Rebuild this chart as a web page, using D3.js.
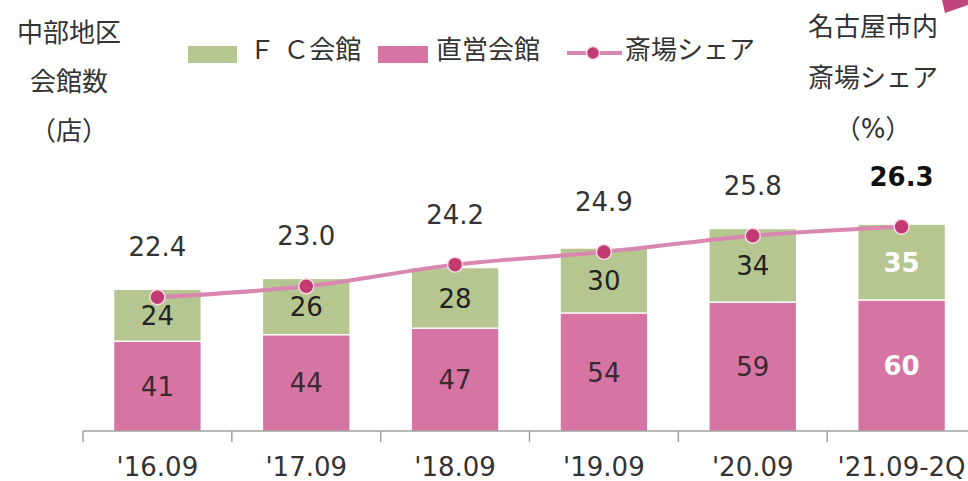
<!DOCTYPE html>
<html>
<head>
<meta charset="utf-8">
<script src="https://d3js.org/d3.v7.min.js"></script>
<style>
  body { margin: 0; background: #fff; }
  text { font-family: "DejaVu Sans", "Noto Sans CJK JP", sans-serif; }
</style>
</head>
<body>
<script>
  var periods = ["'16.09", "'17.09", "'18.09", "'19.09", "'20.09", "'21.09-2Q"];
  var direct = [41, 44, 47, 54, 59, 60];
  var fc = [24, 26, 28, 30, 34, 35];
  var share = [22.4, 23.0, 24.2, 24.9, 25.8, 26.3];

  var width = 968, height = 481;
  var green = "#b6c690", pink = "#d674a4", lineCol = "#d986b0", dotCol = "#c23a70";
  var fs = 26;

  var svg = d3.select("body").append("svg")
      .attr("width", width)
      .attr("height", height);

  var x = d3.scaleBand().domain(periods).range([83, 976]).paddingInner(0.42).paddingOuter(0.21);
  var y = d3.scaleLinear().domain([0, 100]).range([431, 214]);
  var y2 = d3.scaleLinear().domain([15, 27]).range([431, 214]);

  // corner decoration
  svg.append("polygon")
      .attr("points", "942,0 968,0 968,5 945,13")
      .attr("fill", "#c0457a");

  // bars
  var data = periods.map(function(p, i) {
    return { p: p, direct: direct[i], fc: fc[i], share: share[i], last: i == periods.length - 1 };
  });

  var g = svg.append("g");
  g.selectAll("rect.direct").data(data).enter().append("rect")
      .attr("class", "direct")
      .attr("x", function(d) { return x(d.p); })
      .attr("width", x.bandwidth())
      .attr("y", function(d) { return y(d.direct); })
      .attr("height", function(d) { return y(0) - y(d.direct); })
      .attr("fill", pink);
  g.selectAll("rect.fc").data(data).enter().append("rect")
      .attr("class", "fc")
      .attr("x", function(d) { return x(d.p); })
      .attr("width", x.bandwidth())
      .attr("y", function(d) { return y(d.direct + d.fc); })
      .attr("height", function(d) { return y(d.direct) - y(d.direct + d.fc) - 1.5; })
      .attr("fill", green);

  // axis
  var axis = svg.append("g")
      .attr("transform", "translate(0,431)")
      .call(d3.axisBottom(x).tickSize(0));
  axis.select(".domain").attr("stroke", "#a0a0a0").attr("stroke-width", 1.5)
      .attr("d", "M83,0H968");
  axis.selectAll("text").attr("font-size", fs).attr("fill", "#333")
      .attr("dy", "0.35em").attr("y", 36);
  var ticks = d3.range(periods.length).map(function(i) { return 83 + i * x.step(); });
  svg.append("g").selectAll("line").data(ticks).enter().append("line")
      .attr("x1", function(d) { return d; }).attr("x2", function(d) { return d; })
      .attr("y1", 431).attr("y2", 442)
      .attr("stroke", "#a0a0a0").attr("stroke-width", 1.5);

  // bar labels
  var cx = function(d) { return x(d.p) + x.bandwidth() / 2; };
  g.selectAll("text.direct").data(data).enter().append("text")
      .attr("x", cx)
      .attr("y", function(d) { return (y(0) + y(d.direct)) / 2; })
      .attr("dy", "0.35em")
      .attr("text-anchor", "middle")
      .attr("font-size", fs)
      .attr("font-weight", function(d) { return d.last ? "bold" : "normal"; })
      .attr("fill", function(d) { return d.last ? "#fff" : "#3a2a30"; })
      .text(function(d) { return d.direct; });
  g.selectAll("text.fc").data(data).enter().append("text")
      .attr("x", cx)
      .attr("y", function(d) { return (y(d.direct) + y(d.direct + d.fc)) / 2; })
      .attr("dy", "0.35em")
      .attr("text-anchor", "middle")
      .attr("font-size", fs)
      .attr("font-weight", function(d) { return d.last ? "bold" : "normal"; })
      .attr("fill", function(d) { return d.last ? "#fff" : "#222"; })
      .text(function(d) { return d.fc; });

  // share line
  var line = d3.line()
      .x(cx)
      .y(function(d) { return y2(d.share); })
      .curve(d3.curveMonotoneX);
  svg.append("path").datum(data)
      .attr("d", line)
      .attr("fill", "none")
      .attr("stroke", lineCol)
      .attr("stroke-width", 4);
  svg.append("g").selectAll("circle").data(data).enter().append("circle")
      .attr("cx", cx)
      .attr("cy", function(d) { return y2(d.share); })
      .attr("r", 7.5)
      .attr("fill", dotCol)
      .attr("stroke", "#f6dce8")
      .attr("stroke-width", 1.5);
  svg.append("g").selectAll("text").data(data).enter().append("text")
      .attr("x", cx)
      .attr("y", function(d) { return y2(d.share) - 50; })
      .attr("dy", "0.35em")
      .attr("text-anchor", "middle")
      .attr("font-size", fs)
      .attr("font-weight", function(d) { return d.last ? "bold" : "normal"; })
      .attr("fill", function(d) { return d.last ? "#111" : "#333"; })
      .text(function(d) { return d.share.toFixed(1); });

  // left title
  var leftTitle = ["中部地区", "会館数", "（店）"];
  svg.append("g").selectAll("text").data(leftTitle).enter().append("text")
      .attr("x", 69)
      .attr("y", function(d, i) { return 33 + i * 49; })
      .attr("dy", "0.35em")
      .attr("text-anchor", "middle")
      .attr("font-size", fs)
      .attr("fill", "#333")
      .text(function(d) { return d; });

  // right title
  var rightTitle = ["名古屋市内", "斎場シェア", "（%）"];
  svg.append("g").selectAll("text").data(rightTitle).enter().append("text")
      .attr("x", 873)
      .attr("y", function(d, i) { return 27 + i * 51; })
      .attr("dy", "0.35em")
      .attr("text-anchor", "middle")
      .attr("font-size", fs)
      .attr("fill", "#333")
      .text(function(d) { return d; });

  // legend
  var legend = svg.append("g");
  legend.append("rect").attr("x", 188).attr("y", 46).attr("width", 49).attr("height", 17).attr("fill", green);
  legend.append("text").attr("x", 249).attr("y", 50).attr("dy", "0.35em")
      .attr("font-size", fs).attr("fill", "#333").text("Ｆ Ｃ会館");
  legend.append("rect").attr("x", 378).attr("y", 46).attr("width", 50).attr("height", 17).attr("fill", pink);
  legend.append("text").attr("x", 436).attr("y", 50).attr("dy", "0.35em")
      .attr("font-size", fs).attr("fill", "#333").text("直営会館");
  legend.append("line").attr("x1", 567).attr("x2", 622).attr("y1", 53).attr("y2", 53)
      .attr("stroke", lineCol).attr("stroke-width", 4);
  legend.append("circle").attr("cx", 593).attr("cy", 53).attr("r", 6.5)
      .attr("fill", dotCol).attr("stroke", "#f6dce8").attr("stroke-width", 1.5);
  legend.append("text").attr("x", 625).attr("y", 50).attr("dy", "0.35em")
      .attr("font-size", fs).attr("fill", "#333").text("斎場シェア");
</script>
</body>
</html>
